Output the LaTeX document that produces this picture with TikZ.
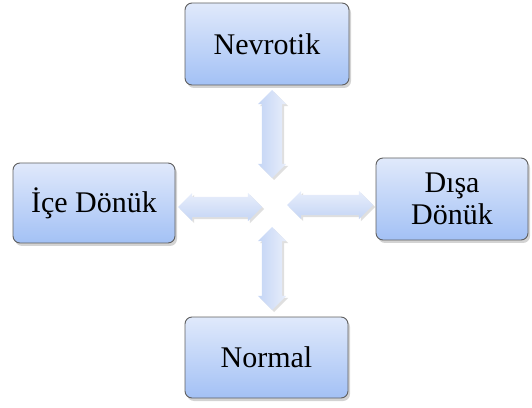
\documentclass[tikz,border=0pt]{standalone}
\usepackage{fontspec}
\setmainfont{Liberation Serif}
\usetikzlibrary{shapes.arrows,shadows}
\definecolor{boxtop}{RGB}{224,233,251}
\definecolor{boxbot}{RGB}{163,193,245}
\definecolor{boxline}{RGB}{95,95,95}
\definecolor{arrtop}{RGB}{232,238,251}
\definecolor{arrbot}{RGB}{196,213,245}
\tikzset{
  box/.style={draw=boxline, line width=0.9pt, rounded corners=7pt,
    top color=boxtop, bottom color=boxbot, align=center, inner sep=0pt,
    font=\fontsize{30}{32}\selectfont,
    drop shadow={opacity=0.35, shadow xshift=2pt, shadow yshift=-3pt}},
  blockarr/.style={double arrow, draw=none, inner xsep=0pt, inner ysep=10pt,
    double arrow head extend=4pt,
    drop shadow={opacity=0.25, shadow xshift=2pt, shadow yshift=-2pt}},
  harr/.style={blockarr, top color=arrtop, bottom color=arrbot},
  varr/.style={blockarr, rotate=90, left color=arrbot, right color=arrtop}
}
\begin{document}
\begin{tikzpicture}[x=1pt,y=1pt]
\useasboundingbox (0,0) rectangle (532,407);
\node[box, minimum width=164pt, minimum height=82pt] (nev) at (267,363) {Nevrotik};
\node[box, minimum width=162pt, minimum height=80pt] (ice) at (94,204) {İçe Dönük};
\node[box, minimum width=152pt, minimum height=82pt] (dis) at (452,208) {Dışa\\Dönük};
\node[box, minimum width=163pt, minimum height=81pt] (nor) at (266.5,49.5) {Normal};
\node[varr, minimum height=88pt] (up) at (272,273) {};
\node[varr, minimum height=83pt] (down) at (272,138.5) {};
\node[harr, minimum height=84pt] (left) at (220,200) {};
\node[harr, minimum height=86pt] (right) at (330,202) {};
\end{tikzpicture}
\end{document}
